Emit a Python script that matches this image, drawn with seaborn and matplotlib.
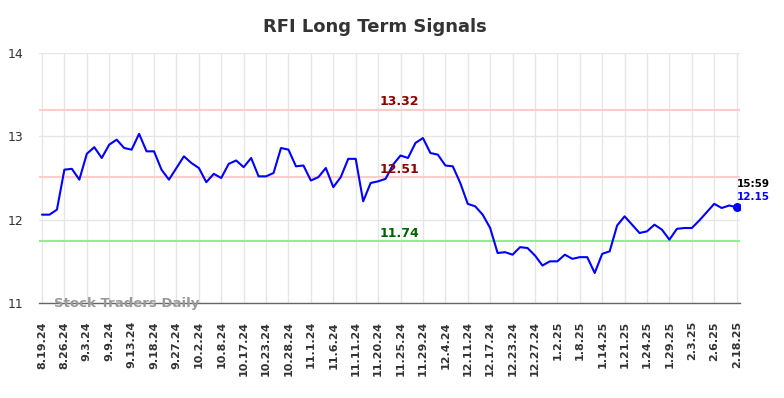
import numpy as np
import pandas as pd
import matplotlib
matplotlib.use("Agg")
import matplotlib.pyplot as plt
import seaborn as sns

# ---- data ----
tick_labels = ["8.19.24", "8.26.24", "9.3.24", "9.9.24", "9.13.24", "9.18.24",
               "9.27.24", "10.2.24", "10.8.24", "10.17.24", "10.23.24", "10.28.24",
               "11.1.24", "11.6.24", "11.11.24", "11.20.24", "11.25.24", "11.29.24",
               "12.4.24", "12.11.24", "12.17.24", "12.23.24", "12.27.24", "1.2.25",
               "1.8.25", "1.14.25", "1.21.25", "1.24.25", "1.29.25", "2.3.25",
               "2.6.25", "2.18.25"]

prices = [12.06, 12.06, 12.12, 12.60, 12.61, 12.48, 12.79, 12.87, 12.74, 12.90,
          12.96, 12.86, 12.84, 13.03, 12.82, 12.82, 12.60, 12.48, 12.62, 12.76,
          12.68, 12.62, 12.45, 12.55, 12.50, 12.67, 12.71, 12.63, 12.74, 12.52,
          12.52, 12.56, 12.86, 12.84, 12.64, 12.65, 12.47, 12.51, 12.62, 12.39,
          12.51, 12.73, 12.73, 12.22, 12.44, 12.46, 12.49, 12.66, 12.77, 12.74,
          12.92, 12.98, 12.80, 12.78, 12.65, 12.64, 12.44, 12.19, 12.16, 12.06,
          11.90, 11.60, 11.61, 11.58, 11.67, 11.66, 11.57, 11.45, 11.50, 11.50,
          11.58, 11.53, 11.55, 11.55, 11.36, 11.59, 11.62, 11.93, 12.04, 11.94,
          11.84, 11.86, 11.94, 11.88, 11.76, 11.89, 11.90, 11.90, 11.99, 12.09,
          12.19, 12.14, 12.17, 12.15]

levels = [13.32, 12.51, 11.74]
level_line_colors = ["#ffcccc", "#ffcccc", "#90ee90"]
level_text_colors = ["#8b0000", "#8b0000", "#006400"]
last_time = "15:59"
title = "RFI Long Term Signals"
watermark = "Stock Traders Daily"

# ---- figure ----
sns.set_theme(style="white")
plt.rcParams['font.family'] = ['DejaVu Sans']

W, H = 784, 398
fig = plt.figure(figsize=(W / 100, H / 100), dpi=100)
ax = fig.add_axes([39 / W, 1 - 303 / H, 701 / W, 250 / H])

df = pd.DataFrame({"idx": np.arange(len(prices)), "price": prices})
n = len(prices)

# tick positions: every third trading day plus the last one
tick_pos = list(range(0, 3 * (len(tick_labels) - 1), 3)) + [n - 1]

ax.set_xlim(-0.4, n - 1 + 0.45)
ax.set_ylim(11, 14)
ax.set_yticks([11, 12, 13, 14])
ax.set_xticks(tick_pos)
ax.set_xticklabels(tick_labels, rotation=90, fontsize=8, fontweight="bold", color="#333333")
ax.tick_params(axis="y", labelsize=9, colors="#333333", length=0, pad=11)
ax.tick_params(axis="x", length=0, pad=13)

ax.grid(True, color="#e6e6e6", linewidth=1)
ax.set_axisbelow(True)
for s in ["top", "right", "left"]:
    ax.spines[s].set_visible(False)
ax.spines["bottom"].set_color("#666666")
ax.spines["bottom"].set_linewidth(1)

for lv, lc, tc in zip(levels, level_line_colors, level_text_colors):
    ax.axhline(lv, color=lc, linewidth=1.5, zorder=1)
    ax.annotate(f"{lv:.2f}", (0.514, lv), xycoords=ax.get_yaxis_transform(),
                xytext=(0, 8), textcoords="offset pixels",
                ha="center", va="center", fontsize=9, fontweight="bold", color=tc, zorder=5)

sns.lineplot(data=df, x="idx", y="price", ax=ax, color="#0000ff", linewidth=1.5, zorder=3)
ax.scatter([n - 1], [prices[-1]], s=30, color="#0000ff", zorder=4)

ax.set_xlabel("")
ax.set_ylabel("")

ax.annotate(last_time, (n - 1, prices[-1]), xytext=(0, 23), textcoords="offset pixels",
            ha="left", va="center", fontsize=7.5, fontweight="bold", color="black",
            annotation_clip=False)
ax.annotate(f"{prices[-1]:.2f}", (n - 1, prices[-1]), xytext=(0, 10), textcoords="offset pixels",
            ha="left", va="center", fontsize=7.5, fontweight="bold", color="#0000ff",
            annotation_clip=False)

fig.text(54 / W, 1 - 303 / H, watermark, fontsize=9.5,
         fontweight="bold", color="#999999", ha="left", va="center")
fig.text(375 / W, 1 - 27 / H, title, ha="center", va="center", fontsize=13,
         fontweight="bold", color="#333333")

fig.savefig("out.png", dpi=100)
